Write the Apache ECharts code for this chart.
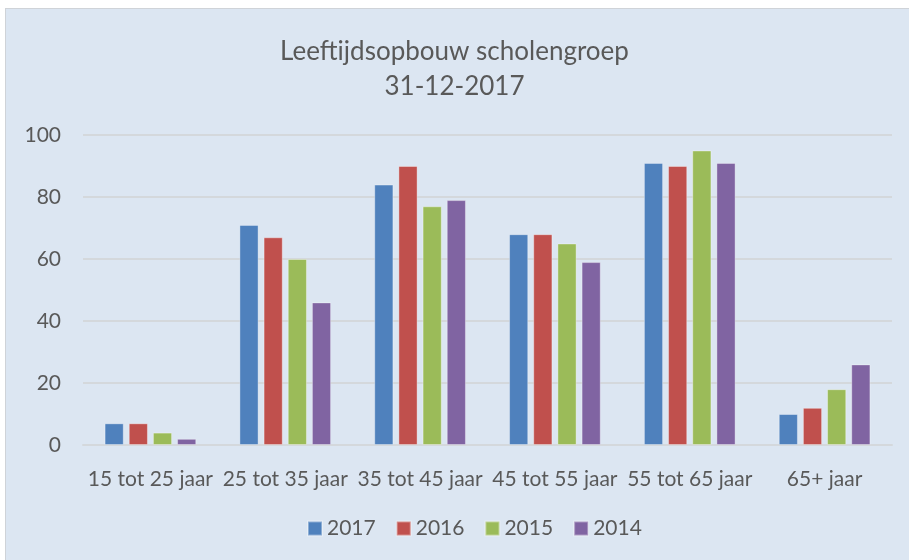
<!DOCTYPE html>
<html>
<head>
<meta charset="utf-8">
<script src="https://cdn.jsdelivr.net/npm/echarts@6/dist/echarts.min.js"></script>
<style>
  html, body { margin: 0; padding: 0; background: #ffffff; }
  #box {
    position: absolute; left: 5px; top: 8px; width: 910px; height: 560px;
    background: #dce6f2; border: 1px solid #cfd3d8;
  }
  #chart { position: absolute; left: 0; top: 0; width: 909px; height: 560px; }
</style>
</head>
<body>
<div id="box"></div>
<div id="chart"></div>
<script>
// leeftijdscategorieën
const categories = ['15 tot 25 jaar', '25 tot 35 jaar', '35 tot 45 jaar', '45 tot 55 jaar', '55 tot 65 jaar', '65+ jaar'];
const years = ['2017', '2016', '2015', '2014'];
const values2017 = [7, 71, 84, 68, 91, 10];
const values2016 = [7, 67, 90, 68, 90, 12];
const values2015 = [4, 60, 77, 65, 95, 18];
const values2014 = [2, 46, 79, 59, 91, 26];
const yTicks = [0, 20, 40, 60, 80, 100];

const colors = ['#4f81bd', '#c0504d', '#9bbb59', '#8064a2'];
const allValues = [values2017, values2016, values2015, values2014];

const chart = echarts.init(document.getElementById('chart'));
const font = 'Lato, "Open Sans", sans-serif';

const option = {
  backgroundColor: 'transparent',
  textStyle: { fontFamily: font },
  title: {
    text: 'Leeftijdsopbouw scholengroep\n31-12-2017',
    left: 'center',
    top: 29,
    textStyle: { fontFamily: font, fontSize: 26, fontWeight: 'normal', color: '#595959', lineHeight: 35 }
  },
  legend: {
    data: years,
    bottom: 16,
    left: 302,
    itemWidth: 14,
    itemHeight: 14,
    itemGap: 20,
    icon: 'rect',
    textStyle: { fontFamily: font, fontSize: 21, color: '#595959' }
  },
  grid: { left: 83, right: 17, top: 135, bottom: 115 },
  xAxis: {
    type: 'category',
    data: categories,
    axisLine: { show: true, lineStyle: { color: '#d4d8dc', width: 2 } },
    axisTick: { show: false },
    axisLabel: { fontFamily: font, fontSize: 21, color: '#595959', margin: 24, interval: 0 }
  },
  yAxis: {
    type: 'value',
    min: yTicks[0],
    max: yTicks[yTicks.length - 1],
    interval: 20,
    axisLine: { show: false },
    axisTick: { show: false },
    axisLabel: { fontFamily: font, fontSize: 21, color: '#595959', margin: 22 },
    splitLine: { lineStyle: { color: '#d4d8dc', width: 2 } }
  },
  series: years.map((y, i) => ({
    name: y,
    type: 'bar',
    data: allValues[i],
    barGap: '26%',
    barCategoryGap: '32%',
    itemStyle: { color: colors[i], borderColor: 'rgba(255,255,255,0.35)', borderWidth: 1 }
  }))
};

chart.setOption(option);
</script>
</body>
</html>
